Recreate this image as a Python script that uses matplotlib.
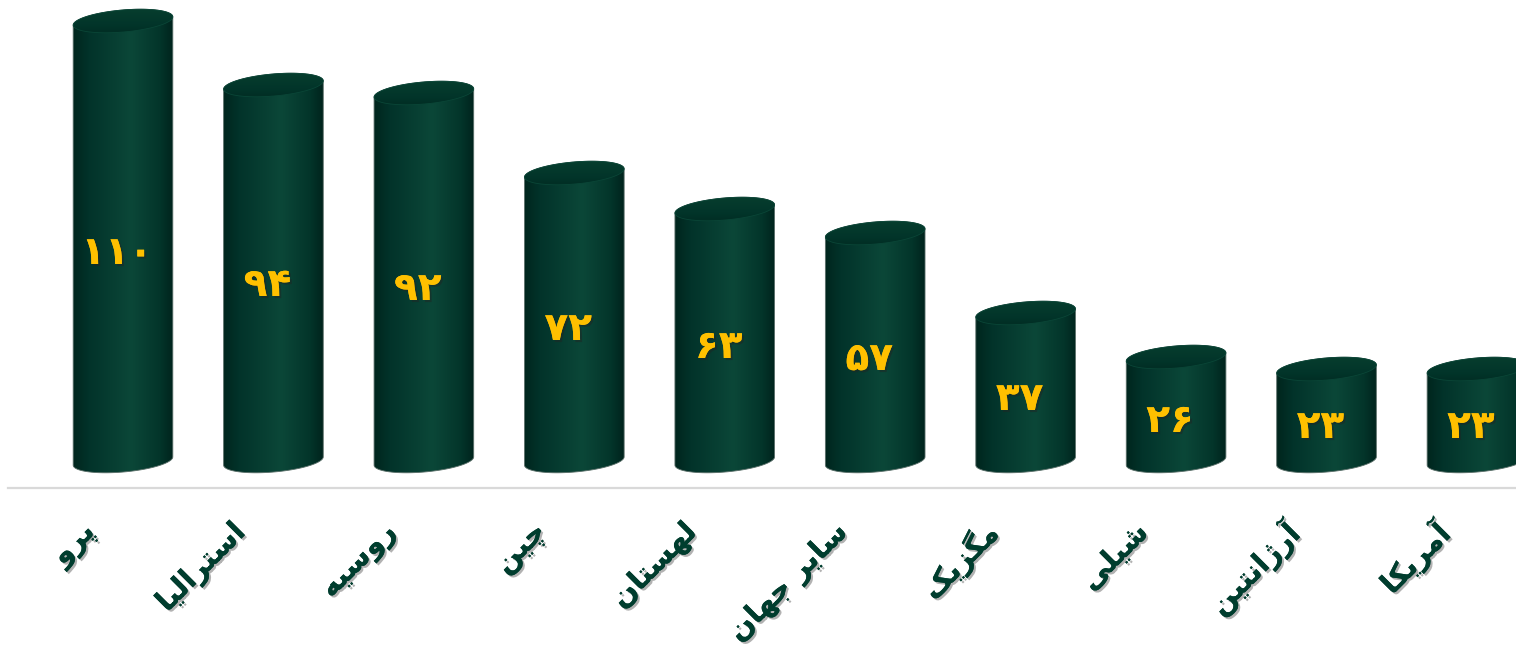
import numpy as np
import matplotlib
matplotlib.use('Agg')
import matplotlib.pyplot as plt
from matplotlib.patches import Polygon
from matplotlib.colors import LinearSegmentedColormap
import matplotlib.patheffects as pe

# ---------------- data ----------------
categories = ['پرو', 'استرالیا', 'روسیه', 'چین', 'لهستان',
              'سایر جهان', 'مگزیک', 'شیلی', 'آرژانتین', 'آمریکا']
values = [110, 94, 92, 72, 63, 57, 37, 26, 23, 23]

# ---------------- minimal Persian shaping ----------------
FORMS = {
    'ا': ('\uFE8D', '\uFE8E', '\uFE8D', '\uFE8E'),
    'آ': ('\uFE81', '\uFE82', '\uFE81', '\uFE82'),
    'پ': ('\uFB56', '\uFB57', '\uFB58', '\uFB59'),
    'ت': ('\uFE95', '\uFE96', '\uFE97', '\uFE98'),
    'ج': ('\uFE9D', '\uFE9E', '\uFE9F', '\uFEA0'),
    'چ': ('\uFB7A', '\uFB7B', '\uFB7C', '\uFB7D'),
    'ر': ('\uFEAD', '\uFEAE', '\uFEAD', '\uFEAE'),
    'ز': ('\uFEAF', '\uFEB0', '\uFEAF', '\uFEB0'),
    'ژ': ('\uFB8A', '\uFB8B', '\uFB8A', '\uFB8B'),
    'س': ('\uFEB1', '\uFEB2', '\uFEB3', '\uFEB4'),
    'ش': ('\uFEB5', '\uFEB6', '\uFEB7', '\uFEB8'),
    'ک': ('\uFB8E', '\uFB8F', '\uFB90', '\uFB91'),
    'گ': ('\uFB92', '\uFB93', '\uFB94', '\uFB95'),
    'ل': ('\uFEDD', '\uFEDE', '\uFEDF', '\uFEE0'),
    'م': ('\uFEE1', '\uFEE2', '\uFEE3', '\uFEE4'),
    'ن': ('\uFEE5', '\uFEE6', '\uFEE7', '\uFEE8'),
    'ه': ('\uFEE9', '\uFEEA', '\uFEEB', '\uFEEC'),
    'و': ('\uFEED', '\uFEEE', '\uFEED', '\uFEEE'),
    'ی': ('\uFBFC', '\uFBFD', '\uFBFE', '\uFBFF'),
}
NON_LEFT = set('اآدذرزژو')


def shape(text):
    out = []
    for k, c in enumerate(text):
        if c not in FORMS:
            out.append(c)
            continue
        prev = text[k - 1] if k > 0 else None
        nxt = text[k + 1] if k + 1 < len(text) else None
        jp = prev in FORMS and prev not in NON_LEFT
        jn = nxt in FORMS and c not in NON_LEFT
        iso, fin, ini, med = FORMS[c]
        out.append(med if (jp and jn) else fin if jp else ini if jn else iso)
    return ''.join(reversed(out))


FA_DIGITS = str.maketrans('0123456789', '۰۱۲۳۴۵۶۷۸۹')

# ---------------- figure ----------------
W, H = 1516, 650
fig = plt.figure(figsize=(W / 100, H / 100), dpi=100)
ax = fig.add_axes([8 / W, (H - 488) / H, (W - 8) / W, 488 / H])

x = np.arange(len(values))
px_x = 150.44   # pixels per category
px_y = 4.0      # pixels per value unit
x0 = -115 / px_x

body_cmap = LinearSegmentedColormap.from_list(
    'body', [(0.0, '#00231b'), (0.18, '#02332a'), (0.58, '#0b4738'),
             (0.85, '#03352a'), (1.0, '#00201a')])
cap_cmap = LinearSegmentedColormap.from_list(
    'cap', [(0.0, '#08402f'), (0.6, '#02352a'), (1.0, '#012a21')])

A, B, TH = 50.0, 11.0, np.deg2rad(5)
t = np.linspace(0, 2 * np.pi, 361)[:-1]
ex = A * np.cos(t) * np.cos(TH) - B * np.sin(t) * np.sin(TH)
ey = A * np.cos(t) * np.sin(TH) + B * np.sin(t) * np.cos(TH)
il, ir = int(np.argmin(ex)), int(np.argmax(ex))


def arc(i_from, i_to):
    idx = []
    k = i_from
    while True:
        idx.append(k)
        if k == i_to:
            break
        k = (k + 1) % len(t)
    return np.array(idx)


a1 = arc(il, ir)
a2 = arc(ir, il)
if ey[a1].mean() < ey[a2].mean():
    lower, upper = a1, a2
else:
    lower, upper = a2, a1
if ex[upper[0]] < ex[upper[-1]]:
    upper = upper[::-1]
if ex[lower[0]] > ex[lower[-1]]:
    lower = lower[::-1]

grad = np.linspace(0, 1, 256).reshape(1, -1)
vgrad = np.linspace(0, 1, 64).reshape(-1, 1)

label_fx = [pe.withSimplePatchShadow(offset=(1.5, -1.5), shadow_rgbFace='#222222',
                                     alpha=0.45), pe.Normal()]
cat_fx = [pe.withSimplePatchShadow(offset=(1.5, -1.5), shadow_rgbFace='#555555',
                                   alpha=0.45), pe.Normal()]

for i, v in zip(x, values):
    bx = np.concatenate([i + ex[lower] / px_x, i + ex[upper] / px_x])
    by = np.concatenate([ey[lower] / px_y, v + ey[upper] / px_y])
    body = Polygon(np.column_stack([bx, by]), closed=True,
                   facecolor='none', edgecolor='#5a6f69', lw=0.6, zorder=2)
    ax.add_patch(body)
    im = ax.imshow(grad, cmap=body_cmap, aspect='auto', zorder=1,
                   extent=[i - (A + 3) / px_x, i + (A + 3) / px_x,
                           -(B + 3) / px_y, v + (B + 3) / px_y])
    im.set_clip_path(body)

    cap = Polygon(np.column_stack([i + ex / px_x, v + ey / px_y]), closed=True,
                  facecolor='none', edgecolor='#0a4637', lw=0.6, zorder=4)
    ax.add_patch(cap)
    imc = ax.imshow(vgrad, cmap=cap_cmap, aspect='auto', zorder=3,
                    extent=[i - (A + 3) / px_x, i + (A + 3) / px_x,
                            v - (B + 6) / px_y, v + (B + 6) / px_y])
    imc.set_clip_path(cap)

    ax.annotate(str(v).translate(FA_DIGITS), xy=(i, v / 2), xytext=(-6, -12),
                textcoords='offset pixels', ha='center', va='center',
                fontsize=28, fontweight='bold', color='#FFC000',
                family='DejaVu Sans', zorder=6, path_effects=label_fx)

for i, c in zip(x, categories):
    ax.annotate(shape(c), xy=(i, 0), xycoords=('data', 'axes fraction'),
                xytext=(-32, -40), textcoords='offset pixels',
                rotation=45, rotation_mode='anchor', ha='right', va='center',
                fontsize=21, fontweight='bold', color='#003d2e',
                family='DejaVu Sans', annotation_clip=False,
                path_effects=cat_fx)

ax.set_xlim(x0, x0 + (W - 8) / px_x)
ax.set_ylim(-27 / px_y, 461 / px_y)
ax.set_xticks([])
ax.set_yticks([])
for s in ['top', 'left', 'right']:
    ax.spines[s].set_visible(False)
ax.spines['bottom'].set_color('#d9d9d9')
ax.spines['bottom'].set_linewidth(1.6)
ax.patch.set_alpha(0)

fig.savefig('out.png', dpi=100)
